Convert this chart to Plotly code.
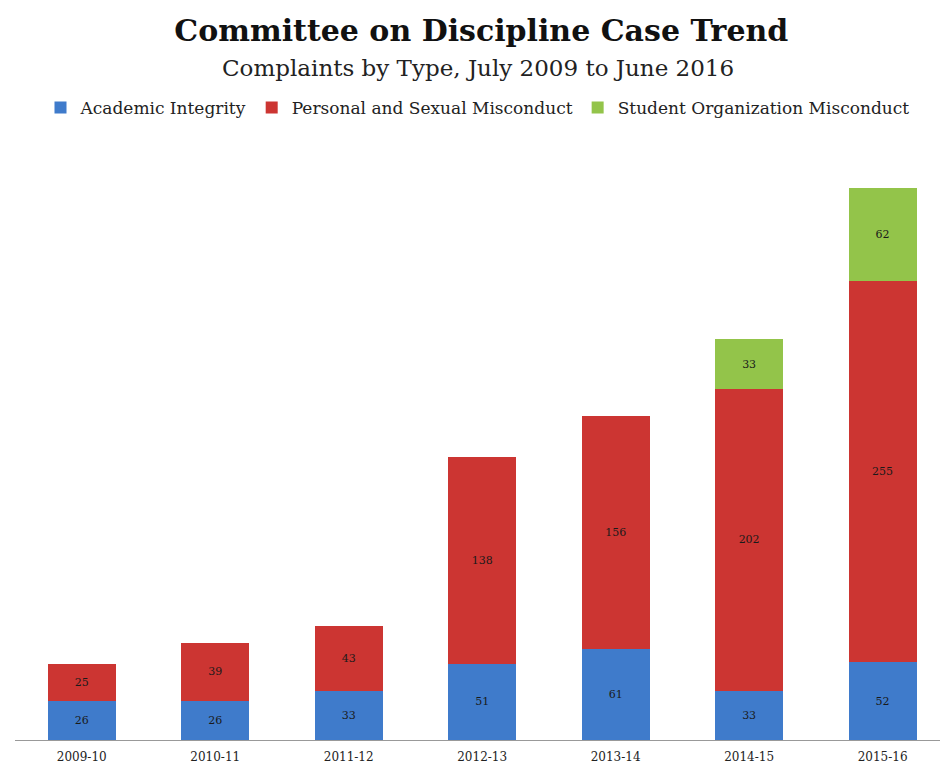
import plotly.graph_objects as go

years = ["2009-10", "2010-11", "2011-12", "2012-13", "2013-14", "2014-15", "2015-16"]
academic = [26, 26, 33, 51, 61, 33, 52]
personal = [25, 39, 43, 138, 156, 202, 255]
student_org = [0, 0, 0, 0, 0, 33, 62]

series = [
    ("Academic Integrity", academic, "#3F7BCB"),
    ("Personal and Sexual Misconduct", personal, "#CC3532"),
    ("Student Organization Misconduct", student_org, "#93C44A"),
]

SERIF = "DejaVu Serif"

fig = go.Figure()
for name, vals, color in series:
    fig.add_trace(go.Bar(
        x=years, y=vals, name=name,
        marker=dict(color=color, line=dict(width=0)),
        text=[str(v) if v else "" for v in vals],
        textposition="inside", insidetextanchor="middle",
        textfont=dict(family=SERIF, size=11, color="#1a1a1a"),
        width=0.51,
    ))

fig.update_layout(
    barmode="stack",
    width=940, height=770,
    margin=dict(l=15, r=0, t=142, b=30),
    paper_bgcolor="white", plot_bgcolor="white",
    title=dict(
        text="<b>Committee on Discipline Case Trend</b>",
        x=0.512, xanchor="center", y=1 - 30 / 770, yanchor="middle",
        font=dict(family=SERIF, size=30, color="#111111"),
    ),
    annotations=[dict(
        text="Complaints by Type, July 2009 to June 2016",
        xref="paper", yref="paper", x=0.5, y=(740 - 68) / 598,
        xanchor="center", yanchor="middle", showarrow=False,
        font=dict(family=SERIF, size=23, color="#222222"),
    )],
    legend=dict(
        orientation="h", x=0.5, xanchor="center", y=(740 - 108) / 598, yanchor="middle",
        font=dict(family=SERIF, size=17, color="#222222"),
        traceorder="normal", itemwidth=30,
    ),
    showlegend=True,
    uniformtext=dict(mode="show", minsize=10),
)
fig.update_xaxes(
    type="category",
    range=[-0.5, 6.43], showline=True, linecolor="#999999", linewidth=1,
    ticks="", ticklabelstandoff=6,
    tickfont=dict(family=SERIF, size=12, color="#222222"),
    showgrid=False,
)
fig.update_yaxes(range=[0, 400], visible=False, showgrid=False)

fig.write_html("out.html")
